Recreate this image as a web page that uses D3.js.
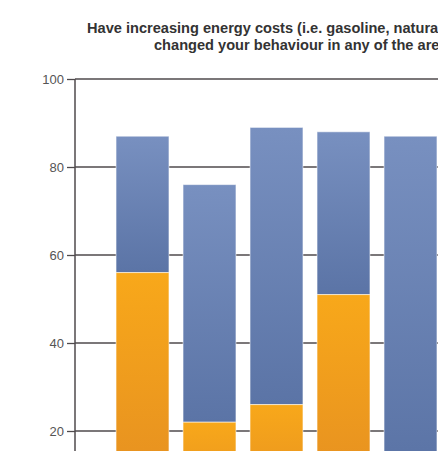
<!DOCTYPE html>
<html>
<head>
<meta charset="utf-8">
<script src="https://cdn.jsdelivr.net/npm/d3@7"></script>
<style>
  body { margin: 0; background: #fff; }
  svg { display: block; overflow: hidden; }
  .title { font-family: "Liberation Sans", Arial, sans-serif; font-weight: bold; font-size: 14.6px; fill: #333; }
  .tick text { font-family: "Liberation Sans", Arial, sans-serif; font-size: 13px; fill: #555; }
</style>
</head>
<body>
<script>
'use strict'

// categories (labels sit below the visible crop)
const categories = ['Driving', 'Heating', 'Appliances', 'Lighting', 'Travel']
// share answering "yes" (orange) and total answered (bar height)
const yesValues = [56, 22, 26, 51, 13]
const totalValues = [87, 76, 89, 88, 87]
const yTicks = [20, 40, 60, 80, 100]
const titleLines = [
  'Have increasing energy costs (i.e. gasoline, natural gas, heating oil)',
  'changed your behaviour in any of the areas below?'
]

const width = 438
const height = 451

const svg = d3.select('body').append('svg')
  .attr('width', width)
  .attr('height', height)

const defs = svg.append('defs')
function grad(id, top, bottom) {
  let g = defs.append('linearGradient').attr('id', id)
    .attr('x1', 0).attr('y1', 0).attr('x2', 0).attr('y2', 1)
  g.append('stop').attr('offset', '0%').attr('stop-color', top)
  g.append('stop').attr('offset', '100%').attr('stop-color', bottom)
}
grad('blue', '#7890c0', '#5b74a6')
grad('orange', '#f8a81a', '#e38c22')

const y = d3.scaleLinear().domain([0, 100]).range([519, 79])
const x = d3.scaleBand().domain(categories)
  .range([109, 109 + 67 * categories.length])
  .paddingInner(0.21).paddingOuter(0.105)

// title
svg.append('g').selectAll('text').data(titleLines).enter()
  .append('text')
  .attr('class', 'title')
  .attr('x', (d, i) => i === 0 ? 87 : 154)
  .attr('y', (d, i) => 33 + i * 17)
  .text(d => d)

// grid lines behind bars
svg.append('g').selectAll('line').data(yTicks).enter()
  .append('line')
  .attr('x1', 75).attr('x2', width)
  .attr('y1', d => y(d)).attr('y2', d => y(d))
  .attr('stroke', '#4f4a4c').attr('stroke-width', 1.3)

// axis
const axis = svg.append('g')
  .attr('transform', 'translate(75,0)')
  .call(d3.axisLeft(y).tickValues(yTicks).tickSize(8).tickPadding(3))
axis.select('.domain').remove()
axis.selectAll('.tick line').attr('stroke', '#4f4a4c').attr('stroke-width', 1.3)
axis.selectAll('.tick text').attr('fill', '#555')
svg.append('line')
  .attr('x1', 75).attr('x2', 75)
  .attr('y1', y(100)).attr('y2', y(0))
  .attr('stroke', '#4f4a4c').attr('stroke-width', 1.5)

// bars
const bars = svg.append('g').selectAll('g.bar').data(categories).enter()
  .append('g').attr('class', 'bar')

bars.append('rect')
  .attr('x', d => x(d))
  .attr('width', x.bandwidth())
  .attr('y', (d, i) => y(totalValues[i]))
  .attr('height', (d, i) => y(yesValues[i]) - y(totalValues[i]))
  .attr('fill', 'url(#blue)')
  .attr('stroke', 'rgba(255,255,255,0.55)')

bars.append('rect')
  .attr('x', d => x(d))
  .attr('width', x.bandwidth())
  .attr('y', (d, i) => y(yesValues[i]))
  .attr('height', (d, i) => y(0) - y(yesValues[i]))
  .attr('fill', 'url(#orange)')
  .attr('stroke', 'rgba(255,255,255,0.55)')
</script>
</body>
</html>
